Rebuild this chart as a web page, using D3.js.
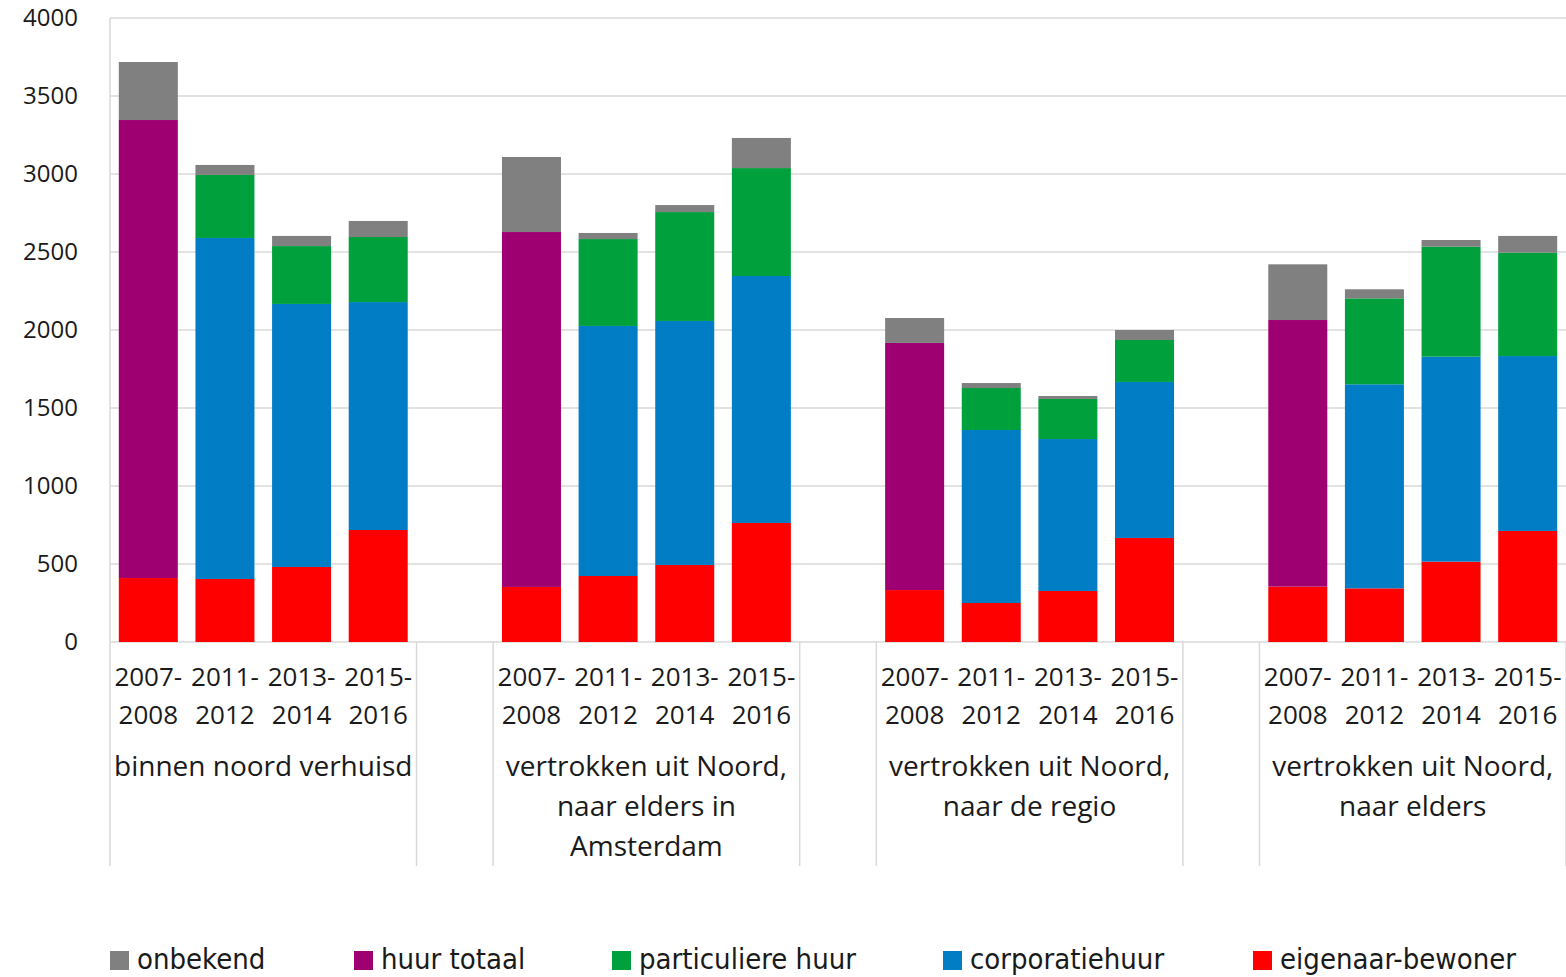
<!DOCTYPE html>
<html>
<head>
<meta charset="utf-8">
<script src="https://cdn.jsdelivr.net/npm/d3@7/dist/d3.min.js"></script>
<style>
  html, body { margin: 0; padding: 0; background: #fff; }
  svg { display: block; }
</style>
</head>
<body>
<svg id="chart" width="1566" height="977"></svg>
<script>
// ---- data ----
const groups = [
  ["binnen noord verhuisd"],
  ["vertrokken uit Noord,", "naar elders in", "Amsterdam"],
  ["vertrokken uit Noord,", "naar de regio"],
  ["vertrokken uit Noord,", "naar elders"]
];
const periods = [["2007-", "2008"], ["2011-", "2012"], ["2013-", "2014"], ["2015-", "2016"]];
const seriesNames = ["eigenaar-bewoner", "corporatiehuur", "particuliere huur", "huur totaal", "onbekend"];
const seriesColors = ["#ff0000", "#007dc5", "#00a03c", "#9e0072", "#808080"];
// values per bar, 4 groups x 4 periods
const eigenaarBewoner = [410, 404, 481, 718,   353, 423, 494, 763,   333, 250, 327, 667,   355, 344, 515, 712];
const corporatiehuur  = [0, 2186, 1686, 1461,  0, 1603, 1564, 1583,  0, 1109, 974, 1000,   0, 1308, 1314, 1121];
const particuliereHuur= [0, 404, 371, 417,     0, 557, 698, 692,     0, 269, 257, 269,     0, 551, 705, 663];
const huurTotaal      = [2936, 0, 0, 0,        2275, 0, 0, 0,        1584, 0, 0, 0,        1709, 0, 0, 0];
const onbekend        = [372, 64, 65, 103,     481, 39, 45, 193,     160, 32, 19, 64,      357, 58, 43, 107];
const yTicks = [0, 500, 1000, 1500, 2000, 2500, 3000, 3500, 4000];
const legendOrder = ["onbekend", "huur totaal", "particuliere huur", "corporatiehuur", "eigenaar-bewoner"];

// ---- build table ----
const seriesValues = [eigenaarBewoner, corporatiehuur, particuliereHuur, huurTotaal, onbekend];
const slots = [];   // 19 slots: 4 bars + gap per group
const rows = [];
groups.forEach((g, gi) => {
  periods.forEach((p, pi) => {
    const key = "g" + gi + "p" + pi;
    slots.push(key);
    const row = { key, gi, pi };
    seriesNames.forEach((s, si) => row[s] = seriesValues[si][gi * 4 + pi]);
    rows.push(row);
  });
  if (gi < groups.length - 1) slots.push("gap" + gi);
});

const svg = d3.select("#chart");
const pLeft = 110, pRight = 1566, pTop = 18, pBottom = 642;
const font = "'Open Sans', 'Noto Sans', sans-serif";

const x = d3.scaleBand().domain(slots).range([pLeft, pRight]).paddingInner(0.23).paddingOuter(0.115);
const y = d3.scaleLinear().domain([0, 4000]).range([pBottom, pTop]);

// gridlines
svg.append("g").selectAll("line").data(yTicks).join("line")
  .attr("x1", pLeft).attr("x2", pRight)
  .attr("y1", d => y(d)).attr("y2", d => y(d))
  .attr("stroke", "#d9d9d9").attr("stroke-width", 1.5);

// y axis labels
const yAxis = d3.axisLeft(y).tickValues(yTicks).tickFormat(d3.format("d")).tickSize(0).tickPadding(32);
const ya = svg.append("g").attr("transform", `translate(${pLeft},0)`).call(yAxis);
ya.select(".domain").remove();
ya.selectAll("text").attr("font-family", font).attr("font-size", 24).attr("fill", "#1a1a1a");

// bars
const stack = d3.stack().keys(seriesNames);
const stacked = stack(rows);
svg.append("g").selectAll("g").data(stacked).join("g")
  .attr("fill", (d, i) => seriesColors[i])
  .selectAll("rect").data(d => d.filter(v => v[1] - v[0] > 0)).join("rect")
  .attr("x", d => x(d.data.key))
  .attr("width", x.bandwidth())
  .attr("y", d => y(d[1]))
  .attr("height", d => y(d[0]) - y(d[1]));

// axes lines
const step = x.step();
const boundaries = [];
groups.forEach((g, gi) => {
  const startIdx = gi * 5;
  boundaries.push(pLeft + startIdx * step, pLeft + (startIdx + 4) * step);
});
svg.append("line").attr("x1", pLeft).attr("x2", pLeft).attr("y1", pTop).attr("y2", pBottom)
  .attr("stroke", "#d9d9d9").attr("stroke-width", 1.5);
svg.append("g").selectAll("line").data(boundaries).join("line")
  .attr("x1", d => d).attr("x2", d => d).attr("y1", pBottom).attr("y2", 866)
  .attr("stroke", "#d9d9d9").attr("stroke-width", 1.5);

// period labels
const xl = svg.append("g").attr("font-family", font).attr("font-size", 26).attr("fill", "#1a1a1a").attr("text-anchor", "middle");
rows.forEach(r => {
  const cx = x(r.key) + x.bandwidth() / 2;
  periods[r.pi].forEach((line, li) => {
    xl.append("text").attr("x", cx).attr("y", 686 + li * 38).text(line);
  });
});
// group labels
groups.forEach((g, gi) => {
  const cx = pLeft + (gi * 5 + 2) * step;
  g.forEach((line, li) => {
    xl.append("text").attr("x", cx).attr("y", 776 + li * 40).attr("font-size", 28).text(line);
  });
});

// legend
const legendX = [110, 354, 612, 943, 1253];
const lg = svg.append("g").attr("font-family", "'Liberation Sans Narrow', 'DejaVu Sans Condensed', sans-serif").attr("font-size", 29).attr("fill", "#1a1a1a");
legendOrder.forEach((name, i) => {
  const si = seriesNames.indexOf(name);
  lg.append("rect").attr("x", legendX[i]).attr("y", 951).attr("width", 19).attr("height", 19).attr("fill", seriesColors[si]);
  lg.append("text").attr("x", legendX[i] + 27).attr("y", 969).text(name);
});
</script>
</body>
</html>
